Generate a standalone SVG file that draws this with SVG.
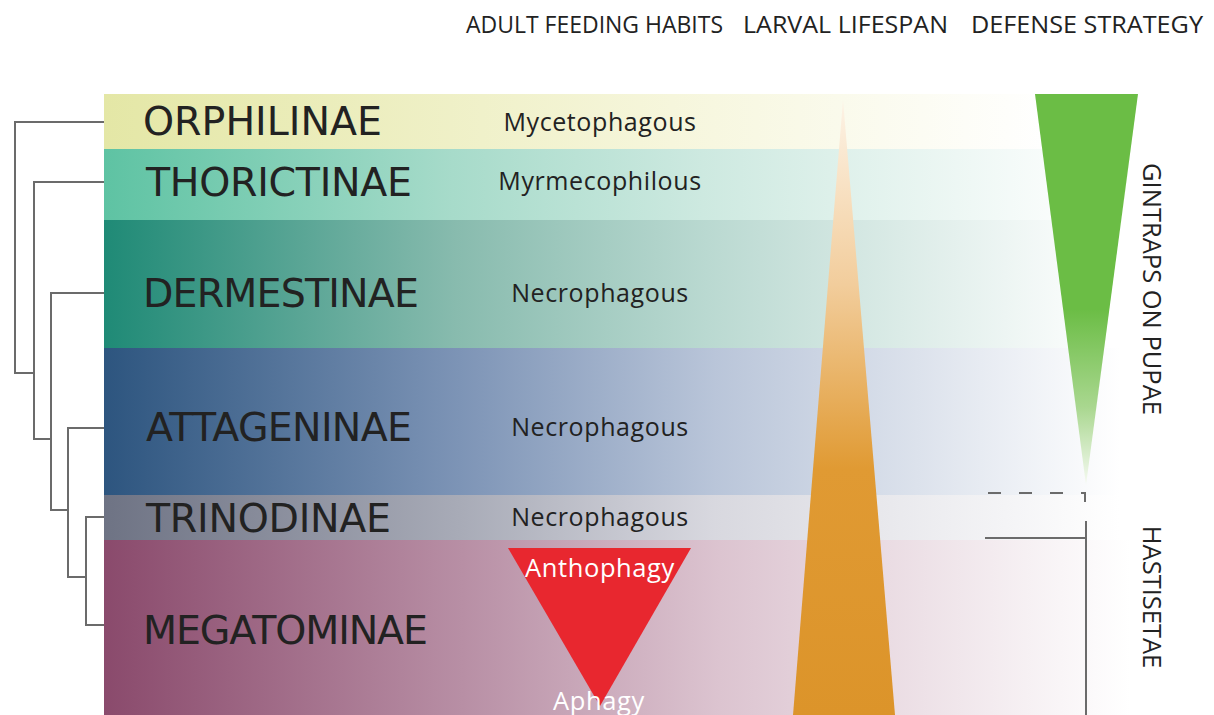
<svg xmlns="http://www.w3.org/2000/svg" width="1214" height="715" viewBox="0 0 1214 715">
<style>
.taxon{font-family:"DejaVu Sans",Verdana,sans-serif;font-size:39.5px;fill:#222;}
.habit{font-family:"Open Sans","Noto Sans",sans-serif;font-size:25px;letter-spacing:0.6px;fill:#222;}
.head{font-family:"Open Sans","Noto Sans",sans-serif;font-size:24px;fill:#222;}
.white{font-family:"Open Sans","Noto Sans",sans-serif;font-size:25.5px;letter-spacing:0.6px;fill:#fff;}
.vert{font-family:"Open Sans","Noto Sans",sans-serif;font-size:25.5px;fill:#222;}
.tree{fill:none;stroke:#6b6b6b;stroke-width:2;}
</style>
<defs>
<linearGradient id="gOrph" gradientUnits="userSpaceOnUse" x1="104" y1="0" x2="1050" y2="0">
<stop offset="0" stop-color="#e4e7a6"/><stop offset="0.6" stop-color="#f6f6dc"/><stop offset="1" stop-color="#ffffff"/></linearGradient>
<linearGradient id="gThor" gradientUnits="userSpaceOnUse" x1="104" y1="0" x2="1100" y2="0">
<stop offset="0" stop-color="#5ec3a3"/><stop offset="0.35" stop-color="#a7dbca"/><stop offset="0.6" stop-color="#cde9e0"/><stop offset="1" stop-color="#ffffff"/></linearGradient>
<linearGradient id="gDerm" gradientUnits="userSpaceOnUse" x1="104" y1="0" x2="1110" y2="0">
<stop offset="0" stop-color="#1f8a76"/><stop offset="0.35" stop-color="#88bbae"/><stop offset="0.6" stop-color="#bad9d1"/><stop offset="1" stop-color="#ffffff"/></linearGradient>
<linearGradient id="gAtta" gradientUnits="userSpaceOnUse" x1="104" y1="0" x2="1120" y2="0">
<stop offset="0" stop-color="#2d557f"/><stop offset="0.35" stop-color="#7d94b6"/><stop offset="0.6" stop-color="#b9c5d9"/><stop offset="1" stop-color="#ffffff"/></linearGradient>
<linearGradient id="gTrin" gradientUnits="userSpaceOnUse" x1="104" y1="0" x2="1120" y2="0">
<stop offset="0" stop-color="#6e7384"/><stop offset="0.35" stop-color="#a8abb7"/><stop offset="0.6" stop-color="#d8d8df"/><stop offset="1" stop-color="#ffffff"/></linearGradient>
<linearGradient id="gMega" gradientUnits="userSpaceOnUse" x1="104" y1="0" x2="1130" y2="0">
<stop offset="0" stop-color="#8a4a6c"/><stop offset="0.35" stop-color="#b88fa5"/><stop offset="0.6" stop-color="#dcc4d0"/><stop offset="1" stop-color="#ffffff"/></linearGradient>
<linearGradient id="gOrange" gradientUnits="userSpaceOnUse" x1="0" y1="100" x2="0" y2="715">
<stop offset="0" stop-color="#fdf3e6"/><stop offset="0.3" stop-color="#f2cd9c"/><stop offset="0.6" stop-color="#e09a33"/><stop offset="1" stop-color="#dc942a"/></linearGradient>
<linearGradient id="gGreen" gradientUnits="userSpaceOnUse" x1="0" y1="94" x2="0" y2="485">
<stop offset="0" stop-color="#6bbd45"/><stop offset="0.55" stop-color="#6bbd45"/><stop offset="0.8" stop-color="#a9d78f"/><stop offset="1" stop-color="#f6faf2"/></linearGradient>
</defs>
<rect width="1214" height="715" fill="#ffffff"/>

<g id="band-orphilinae"><rect x="104" y="94" width="1010" height="55" fill="url(#gOrph)"/></g>
<g id="band-thorictinae"><rect x="104" y="149" width="1010" height="71" fill="url(#gThor)"/></g>
<g id="band-dermestinae"><rect x="104" y="220" width="1020" height="128" fill="url(#gDerm)"/></g>
<g id="band-attageninae"><rect x="104" y="348" width="1030" height="147" fill="url(#gAtta)"/></g>
<g id="band-trinodinae"><rect x="104" y="495" width="1040" height="45" fill="url(#gTrin)"/></g>
<g id="band-megatominae"><rect x="104" y="540" width="1050" height="175" fill="url(#gMega)"/></g>

<g id="headers">
<text class="head" x="466" y="33" textLength="257" lengthAdjust="spacingAndGlyphs">ADULT FEEDING HABITS</text>
<text class="head" x="743" y="33" textLength="205" lengthAdjust="spacingAndGlyphs">LARVAL LIFESPAN</text>
<text class="head" x="971" y="33" textLength="232" lengthAdjust="spacingAndGlyphs">DEFENSE STRATEGY</text>
</g>

<g id="taxa">
<text class="taxon" x="143" y="135" textLength="239">ORPHILINAE</text>
<text class="taxon" x="146" y="196" textLength="266">THORICTINAE</text>
<text class="taxon" x="143" y="307" textLength="276">DERMESTINAE</text>
<text class="taxon" x="146" y="441" textLength="266">ATTAGENINAE</text>
<text class="taxon" x="146" y="532" textLength="245">TRINODINAE</text>
<text class="taxon" x="143" y="644" textLength="285">MEGATOMINAE</text>
</g>

<g id="habits">
<text class="habit" x="600" y="131" text-anchor="middle">Mycetophagous</text>
<text class="habit" x="600" y="190" text-anchor="middle">Myrmecophilous</text>
<text class="habit" x="600" y="302" text-anchor="middle">Necrophagous</text>
<text class="habit" x="600" y="436" text-anchor="middle">Necrophagous</text>
<text class="habit" x="600" y="526" text-anchor="middle">Necrophagous</text>
</g>

<g id="feeding-triangle">
<polygon points="508,548 691,548 600,706" fill="#e8272f"/>
<text class="white" x="600" y="577" text-anchor="middle">Anthophagy</text>
<text class="white" x="599" y="710" text-anchor="middle">Aphagy</text>
</g>

<g id="larval-triangle">
<polygon points="843,100 895,715 793,715" fill="url(#gOrange)"/>
</g>

<g id="gintraps-triangle">
<polygon points="1035,94 1138,94 1086,485" fill="url(#gGreen)"/>
<text class="vert" transform="translate(1143,289) rotate(90)" text-anchor="middle">GINTRAPS ON PUPAE</text>
</g>

<g id="hastisetae">
<text class="vert" transform="translate(1143,597) rotate(90)" text-anchor="middle">HASTISETAE</text>
</g>

<g id="connectors">
<path class="tree" d="M104,122 H15 V373 H34"/>
<path class="tree" d="M104,182 H34 V439 H51"/>
<path class="tree" d="M104,293 H51 V510 H68"/>
<path class="tree" d="M104,428 H68 V577 H86"/>
<path class="tree" d="M104,517 H86 V625 H104"/>
<path class="tree" d="M988,493 H1085 V505" stroke-dasharray="13,18"/>
<path class="tree" d="M985,538 H1086"/>
<path class="tree" d="M1086,521 V715"/>
</g>
</svg>
